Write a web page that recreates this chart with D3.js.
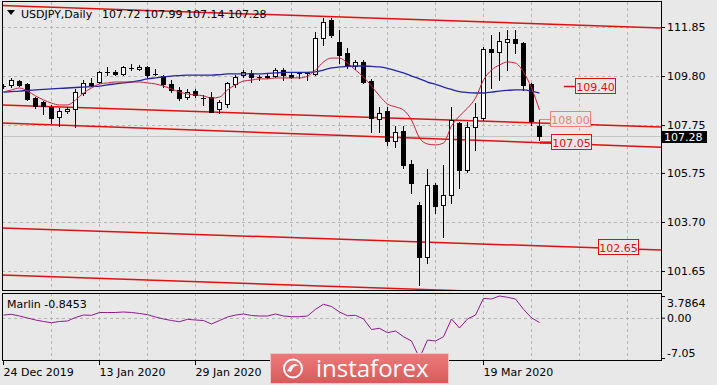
<!DOCTYPE html>
<html>
<head>
<meta charset="utf-8">
<script src="https://cdn.jsdelivr.net/npm/d3@7"></script>
<style>
  body { margin: 0; background: #e8e8e8; }
  svg { display: block; font-family: "DejaVu Sans", sans-serif; font-size: 11px; }
</style>
</head>
<body>
<svg id="chart" width="717" height="385"></svg>
<script>
// USDJPY daily bars, 24 Dec 2019 .. 30 Mar 2020
const opens = [109.38,109.41,109.61,109.47,108.88,108.71,108.51,108.09,108.34,108.42,
  109.09,109.51,109.55,109.97,109.97,109.89,110.14,110.09,110.18,109.89,
  109.80,109.47,109.22,108.92,109.17,108.92,108.92,108.42,108.63,109.47,
  109.84,109.93,109.76,109.80,109.80,110.05,109.84,109.93,109.93,109.89,
  111.39,112.14,111.22,110.76,110.22,110.39,109.59,108.00,108.34,107.08,
  107.50,106.12,104.41,102.23,105.24,104.41,104.83,107.84,105.87,107.67,
  108.05,110.93,110.80,111.22,111.35,111.18,109.47,107.72];
const highs = [109.47,109.72,109.63,109.51,108.92,108.76,108.59,108.46,108.51,109.26,
  109.63,109.72,110.01,110.18,110.05,110.22,110.30,110.26,110.22,110.09,
  109.84,109.63,109.34,109.26,109.26,109.01,109.13,108.80,109.55,109.84,
  110.05,110.05,109.84,109.93,110.14,110.14,109.93,109.97,109.97,111.64,
  112.23,112.23,111.72,110.97,110.47,110.47,109.68,108.51,108.51,107.71,
  107.71,106.29,104.53,105.91,105.33,106.08,108.51,107.88,107.88,108.67,
  111.01,111.52,111.64,111.72,111.72,111.22,109.51,107.99];
const lows = [109.30,109.34,109.38,108.80,108.46,108.21,107.84,107.71,108.25,107.67,
  109.01,109.43,109.51,109.84,109.84,109.84,110.05,110.05,109.72,109.84,
  109.34,109.13,108.80,108.84,108.92,108.59,108.30,108.25,108.51,109.34,
  109.76,109.55,109.63,109.72,109.76,109.63,109.72,109.72,109.63,109.84,
  111.10,111.43,110.34,110.14,110.09,109.51,107.46,107.46,106.92,106.83,
  105.96,104.91,101.06,101.98,104.07,103.07,104.49,105.12,105.79,106.71,
  107.96,109.30,109.63,110.05,110.76,109.22,107.75,107.14];
const closes = [109.40,109.63,109.43,108.84,108.55,108.55,108.05,108.34,108.42,109.13,
  109.51,109.43,109.97,109.95,109.89,110.18,110.12,110.18,109.84,109.87,
  109.47,109.22,108.88,109.13,109.01,108.90,108.30,108.71,109.51,109.76,
  109.97,109.76,109.74,109.76,110.05,109.84,109.76,109.91,109.91,111.39,
  112.06,111.52,110.68,110.22,110.39,109.55,108.05,108.25,107.08,107.46,
  106.08,105.33,102.23,105.24,104.37,104.83,107.96,105.87,107.67,108.09,
  110.93,110.80,111.26,111.35,111.18,109.43,107.92,107.28];

// moving averages
const maSlow = [109.13,109.15,109.17,109.20,109.22,109.24,109.26,109.28,109.30,109.32,
  109.34,109.36,109.38,109.43,109.47,109.51,109.55,109.61,109.68,109.72,
  109.76,109.80,109.82,109.84,109.84,109.84,109.84,109.86,109.89,109.89,
  109.89,109.89,109.89,109.91,109.93,109.95,109.95,109.95,109.95,109.97,
  110.05,110.14,110.18,110.20,110.22,110.22,110.20,110.18,110.12,110.03,
  109.93,109.80,109.68,109.55,109.45,109.34,109.24,109.15,109.11,109.09,
  109.09,109.13,109.17,109.20,109.22,109.22,109.17,109.09];
const maFast = [109.13,109.22,109.30,109.17,108.97,108.80,108.67,108.59,108.59,108.80,
  109.09,109.30,109.47,109.51,109.55,109.55,109.55,109.55,109.51,109.47,
  109.38,109.26,109.13,109.05,109.01,108.97,108.88,108.92,109.22,109.43,
  109.59,109.63,109.68,109.68,109.72,109.72,109.72,109.72,109.80,110.05,
  110.39,110.55,110.55,110.34,110.05,109.76,109.38,108.97,108.63,108.51,
  108.38,107.96,107.21,106.96,106.92,107.00,107.71,108.13,108.46,108.88,
  109.63,110.05,110.26,110.39,110.34,109.97,109.30,108.38];

// Marlin oscillator
const marlin = [0.46,0.59,0.29,-0.06,-0.41,-0.67,-0.88,-0.67,-0.58,0.03,
  0.46,0.41,0.90,0.90,0.90,0.99,0.90,0.73,0.52,0.12,
  -0.23,-0.50,-0.71,-0.29,-0.41,-0.50,-1.11,-0.50,0.12,0.46,
  0.64,0.38,0.29,0.29,0.64,0.29,0.17,0.17,0.29,1.46,
  2.34,1.95,0.99,0.34,0.41,-0.23,-2.07,-1.86,-2.63,-2.33,
  -3.33,-4.08,-7.05,-3.91,-4.08,-3.33,-0.23,-1.81,-0.23,0.46,
  3.38,3.26,3.7864,3.56,3.26,1.46,-0.03,-0.8453];

const priceTicks = [111.85, 109.80, 107.75, 105.75, 103.70, 101.65];
const marlinTicks = [3.7864, 0, -7.05];
const dateTickBars = [0, 12, 24, 60];
const dateLabels = ["24 Dec 2019", "13 Jan 2020", "29 Jan 2020", "19 Mar 2020"];

// trend lines: price at bar 0 and at bar 82
const channelStart = [112.75, 108.59, 107.84, 103.45, 101.48];
const channelEnd = [111.81, 107.67, 106.83, 102.53, 100.54];

// level labels
const levelValues = [109.40, 108.00, 107.05, 102.65];

const svg = d3.select("#chart");
const bg = "#e8e8e8";
const nBars = 82.25;
const left = 2, right = 661;
const mainTop = 2, mainBottom = 290, subTop = 293, subBottom = 360;

let x = d3.scaleLinear().domain([0, nBars]).range([3, right]);
let y = d3.scaleLinear().domain([100.855, 112.895]).range([mainBottom, mainTop]);
let ym = d3.scaleLinear().domain(d3.extent(marlin)).range([358, 296]);
const px = i => Math.round(x(i)) + 0.5;

const defs = svg.append("defs");
defs.append("clipPath").attr("id", "clipMain").append("rect")
  .attr("x", left).attr("y", mainTop).attr("width", right - left).attr("height", mainBottom - mainTop);
defs.append("clipPath").attr("id", "clipSub").append("rect")
  .attr("x", left).attr("y", subTop).attr("width", right - left).attr("height", subBottom - subTop);

svg.append("rect").attr("width", 717).attr("height", 385).attr("fill", bg);

// grid
let gridBars = d3.range(6, nBars, 6);
let grid = svg.append("g").attr("stroke", "#b5b5b5").attr("stroke-dasharray", "3,3").attr("shape-rendering", "crispEdges");
grid.selectAll(".vm").data(gridBars).enter().append("line")
  .attr("x1", d => px(d)).attr("x2", d => px(d)).attr("y1", mainTop).attr("y2", mainBottom);
grid.selectAll(".vs").data(gridBars).enter().append("line")
  .attr("x1", d => px(d)).attr("x2", d => px(d)).attr("y1", subTop).attr("y2", subBottom);
grid.selectAll(".h").data(priceTicks).enter().append("line")
  .attr("x1", left).attr("x2", right).attr("y1", d => Math.round(y(d)) + 0.5).attr("y2", d => Math.round(y(d)) + 0.5);
grid.append("line").attr("x1", left).attr("x2", right)
  .attr("y1", Math.round(ym(0)) + 0.5).attr("y2", Math.round(ym(0)) + 0.5);

let main = svg.append("g").attr("clip-path", "url(#clipMain)");

// bid line
main.append("line").attr("x1", left).attr("x2", right)
  .attr("y1", Math.round(y(closes[closes.length - 1])) + 0.5).attr("y2", Math.round(y(closes[closes.length - 1])) + 0.5)
  .attr("stroke", "#c4c4c4");

// channel lines
main.selectAll(".chan").data(channelStart).enter().append("line")
  .attr("x1", x(-0.2)).attr("x2", x(nBars))
  .attr("y1", (d, i) => y(d + (channelEnd[i] - d) * (-0.2 / 82)))
  .attr("y2", (d, i) => y(d + (channelEnd[i] - d) * (nBars / 82)))
  .attr("stroke", "#e01010").attr("stroke-width", 1.5);

// candles
let bars = d3.range(opens.length);
let candles = main.append("g").attr("shape-rendering", "crispEdges");
candles.selectAll(".wick").data(bars).enter().append("line")
  .attr("x1", i => px(i)).attr("x2", i => px(i))
  .attr("y1", i => Math.round(y(highs[i]))).attr("y2", i => Math.round(y(lows[i])) + 1)
  .attr("stroke", "#000");
candles.selectAll(".body").data(bars.filter(i => Math.abs(opens[i] - closes[i]) >= 0.03)).enter().append("rect")
  .attr("x", i => px(i) - 2).attr("width", 4)
  .attr("y", i => Math.round(y(Math.max(opens[i], closes[i]))) + 0.5)
  .attr("height", i => Math.max(1, Math.round(y(Math.min(opens[i], closes[i]))) - Math.round(y(Math.max(opens[i], closes[i])))))
  .attr("fill", i => closes[i] >= opens[i] ? "#fff" : "#000")
  .attr("stroke", "#000");
candles.selectAll(".doji").data(bars.filter(i => Math.abs(opens[i] - closes[i]) < 0.03)).enter().append("line")
  .attr("x1", i => px(i) - 2.5).attr("x2", i => px(i) + 2.5)
  .attr("y1", i => Math.round(y(closes[i])) + 0.5).attr("y2", i => Math.round(y(closes[i])) + 0.5)
  .attr("stroke", "#000");

// moving averages
let maLine = d3.line().x((d, i) => px(i)).y(d => y(d)).curve(d3.curveMonotoneX);
main.append("path").datum(maSlow).attr("d", maLine).attr("fill", "none")
  .attr("stroke", "#2424a8").attr("stroke-width", 1.3);
main.append("path").datum(maFast).attr("d", maLine).attr("fill", "none")
  .attr("stroke", "#c8203c").attr("stroke-width", 1);

// level labels
let lastX = x(opens.length - 1);
let levelBox = [
  { left: x(71.5), lead: [x(70.1), x(71.5)], color: "#e01010", lw: 1.5 },
  { left: x(68.4), lead: [lastX, x(68.4)], color: "#ef8272", lw: 1 },
  { left: x(68.5), lead: [lastX + 1, x(68.5)], color: "#e01010", lw: 2.2 },
  { left: x(74.4), lead: null, color: "#e01010", lw: 1 }
];
levelValues.forEach((v, i) => {
  let b = levelBox[i];
  let cy = Math.round(y(v)) + 0.5;
  if (b.lead) {
    main.append("line").attr("x1", b.lead[0]).attr("x2", b.lead[1]).attr("y1", cy).attr("y2", cy)
      .attr("stroke", b.color).attr("stroke-width", b.lw);
  }
  main.append("rect").attr("x", Math.round(b.left) + 0.5).attr("y", cy - 8).attr("width", 40).attr("height", 15)
    .attr("fill", bg).attr("stroke", b.color);
  main.append("text").attr("x", Math.round(b.left) + 20.5).attr("y", cy + 4).attr("text-anchor", "middle")
    .attr("fill", b.color).text(v.toFixed(2));
});

// Marlin
let sub = svg.append("g").attr("clip-path", "url(#clipSub)");
sub.append("path").datum(marlin)
  .attr("d", d3.line().x((d, i) => px(i)).y(d => ym(d)))
  .attr("fill", "none").attr("stroke", "#8e1a8e").attr("stroke-width", 1);

// panel borders
svg.append("rect").attr("x", left + 0.5).attr("y", mainTop - 0.5).attr("width", right - left).attr("height", mainBottom - mainTop + 1)
  .attr("fill", "none").attr("stroke", "#000");
svg.append("rect").attr("x", left + 0.5).attr("y", subTop + 0.5).attr("width", right - left).attr("height", subBottom - subTop)
  .attr("fill", "none").attr("stroke", "#000");

// axes
function styleAxis(g) {
  g.attr("font-family", "DejaVu Sans, sans-serif").attr("font-size", 11);
  g.select(".domain").remove();
  g.selectAll("line").attr("stroke", "#000");
  g.selectAll("text").attr("fill", "#000");
}
let yAxis = d3.axisRight(y).tickValues(priceTicks).tickFormat(d3.format(".2f")).tickSize(4).tickPadding(2);
svg.append("g").attr("transform", `translate(${right},0)`).call(yAxis).call(styleAxis)
  .call(g => g.selectAll(".tick text").attr("dy", "0.28em"));

let ymAxis = d3.axisRight(ym).tickValues(marlinTicks)
  .tickFormat(d => d === 0 ? "0.00" : String(d)).tickSize(4).tickPadding(2);
svg.append("g").attr("transform", `translate(${right},0)`).call(ymAxis).call(styleAxis)
  .call(g => g.selectAll(".tick text").attr("dy", d => d === marlinTicks[0] ? "0.95em" : d === marlinTicks[2] ? "-0.15em" : "0.32em"));

let xAxis = d3.axisBottom(x).tickValues(dateTickBars).tickFormat((d, i) => dateLabels[i]).tickSize(4).tickPadding(3);
svg.append("g").attr("transform", `translate(0,${subBottom + 1})`).call(xAxis).call(styleAxis)
  .call(g => g.selectAll(".tick text").attr("text-anchor", "start"));

// current price tag
let last = closes.length - 1;
let cpy = Math.round(y(closes[last]));
svg.append("rect").attr("x", right).attr("y", cpy - 5).attr("width", 46).attr("height", 12).attr("fill", "#000");
svg.append("text").attr("x", right + 3).attr("y", cpy + 5).attr("font-size", 11).attr("fill", "#fff").text(closes[last].toFixed(2));

// header
svg.append("path").attr("d", "M7,10 L15,10 L11,15 Z").attr("fill", "#000");
svg.append("text").attr("x", 21).attr("y", 17.5).attr("fill", "#000").text("USDJPY,Daily");
svg.append("text").attr("x", 102).attr("y", 17.5).attr("fill", "#000")
  .text([opens[last], highs[last], lows[last], closes[last]].map(d => d.toFixed(2)).join(" "));
svg.append("text").attr("x", 7).attr("y", 308).attr("fill", "#000")
  .text("Marlin " + marlin[marlin.length - 1].toFixed(4));

// watermark
let grad = defs.append("linearGradient").attr("id", "logoGrad").attr("x1", 0).attr("y1", 0).attr("x2", 0).attr("y2", 1);
grad.append("stop").attr("offset", 0).attr("stop-color", "#ec7b7b");
grad.append("stop").attr("offset", 1).attr("stop-color", "#d85a5a");
let logo = svg.append("g");
logo.append("rect").attr("x", 270.5).attr("y", 353.5).attr("width", 178).attr("height", 30)
  .attr("fill", "url(#logoGrad)").attr("stroke", "#f4c4c4");
logo.append("circle").attr("cx", 293).attr("cy", 368.5).attr("r", 9)
  .attr("fill", "none").attr("stroke", "#fff").attr("stroke-width", 2);
logo.append("path").attr("d", "M287,371 Q293,360 299,366 Q294,364 291,372 Z").attr("fill", "#fff");
logo.append("text").attr("x", 316).attr("y", 377).attr("fill", "#fff")
  .attr("font-family", "Open Sans, sans-serif").attr("font-size", 24).text("instaforex");
</script>
</body>
</html>
